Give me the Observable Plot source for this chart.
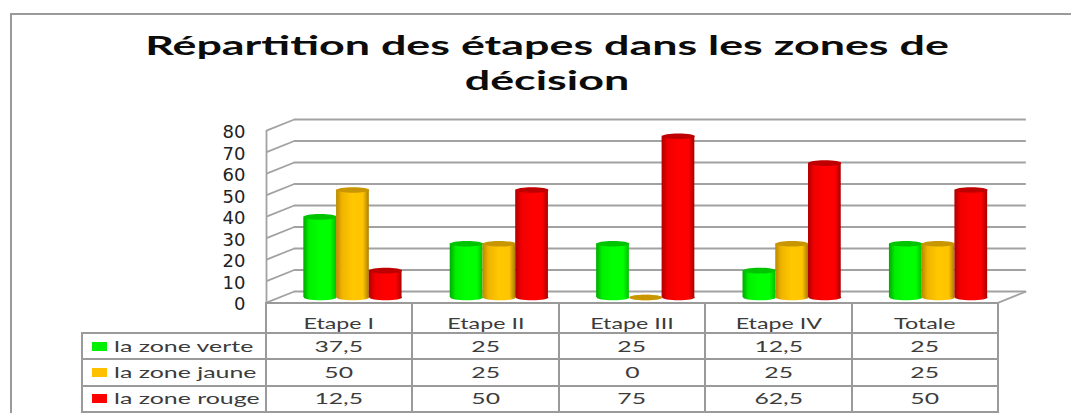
<!DOCTYPE html>
<html lang="fr">
<head>
<meta charset="utf-8">
<script src="https://cdn.jsdelivr.net/npm/d3@7"></script>
<script src="https://cdn.jsdelivr.net/npm/@observablehq/plot@0.6"></script>
<style>
  html, body { margin: 0; padding: 0; background: #fff; }
  #frame { position: relative; width: 1071px; height: 413px; overflow: hidden; box-sizing: border-box; }
  #frame::before { content: ""; position: absolute; left: 10px; top: 13px; right: 0; bottom: 0;
    border-top: 2px solid #9a9a9a; border-left: 2px solid #9a9a9a; }
  #title { position: absolute; left: 0; top: 27px; width: 1094px; text-align: center;
    font: 700 27px/35px Lato, sans-serif; color: #0c0c0c; }
  #title span { display: block; transform: scaleX(1.66); }
  #chart { position: absolute; left: 0; top: 110px; }
  #chart svg { display: block; overflow: visible; }
  #tbl { position: absolute; left: 81px; top: 302px; border-collapse: collapse; table-layout: fixed;
    width: 916px; font: 15px/1 Lato, sans-serif; color: #3c3c3c; }
  #tbl td, #tbl th { border: 2px solid #9a9a9a; padding: 0; text-align: center; font-weight: 400;
    height: 26.3px; box-sizing: border-box; vertical-align: middle; }
  #tbl thead th { height: 30px; vertical-align: bottom; padding-bottom: 1px; }
  #tbl thead th:first-child { border: 0; border-right: 2px solid #9a9a9a; border-bottom: 2px solid #9a9a9a; }
  #tbl .c { display: inline-block; transform: scaleX(1.55); }
  #tbl td .c { transform: scaleX(1.65); }
  #tbl .key { text-align: left; white-space: nowrap; }
  #tbl .sw { display: inline-block; width: 15px; height: 9px; margin: 0 7px 0 9px; vertical-align: 1px; }
  #tbl .n { display: inline-block; transform: scaleX(1.66); transform-origin: left center; }
</style>
</head>
<body>
<div id="frame">
  <div id="title"><span>Répartition des étapes dans les zones de</span><span>décision</span></div>
  <div id="chart"></div>
  <table id="tbl"></table>
</div>
<script>
const stages = ["Etape I", "Etape II", "Etape III", "Etape IV", "Totale"];
const zones = ["la zone verte", "la zone jaune", "la zone rouge"];
const verte = [37.5, 25, 25, 12.5, 25];
const jaune = [50, 25, 0, 25, 25];
const rouge = [12.5, 50, 75, 62.5, 50];
const yTicks = [0, 10, 20, 30, 40, 50, 60, 70, 80];

const seriesValues = [verte, jaune, rouge];
const swatch = ["#00f000", "#ffc000", "#ff0000"];
const capColor = ["#00c400", "#c89600", "#bf0000"];
const ramps = [
  ["#00a800", "#00f000", "#00ff00", "#00ff00", "#00c000"],
  ["#b88a00", "#f0b400", "#ffc800", "#ffc400", "#a87e00"],
  ["#b00000", "#f00000", "#ff0000", "#ff0000", "#a80000"]
];
const rampStops = ["0%", "18%", "50%", "82%", "100%"];

// Bar layout, in units of one table column
const barStart = 0.255, barWidth = 0.2236;
// Depth of the 3D box, in scale units
const depthX = 0.19, frontY = -2.35, backY = 2.8;

function rows(s) {
  return stages.map((stage, i) => ({
    stage,
    x1: i + barStart + s * barWidth,
    x2: i + barStart + (s + 1) * barWidth,
    xc: i + barStart + (s + 0.5) * barWidth,
    v: seriesValues[s][i]
  }));
}

const ellipse = {
  draw(ctx) {
    const rx = 16.4, ry = 2.8, k = 0.5523;
    ctx.moveTo(-rx, 0);
    ctx.bezierCurveTo(-rx, -ry * k, -rx * k, -ry, 0, -ry);
    ctx.bezierCurveTo(rx * k, -ry, rx, -ry * k, rx, 0);
    ctx.bezierCurveTo(rx, ry * k, rx * k, ry, 0, ry);
    ctx.bezierCurveTo(-rx * k, ry, -rx, ry * k, -rx, 0);
    ctx.closePath();
  }
};

function defs() {
  const d = d3.create("svg:defs");
  ramps.forEach((ramp, s) => {
    const g = d.append("linearGradient").attr("id", "cyl" + s);
    ramp.forEach((c, i) => g.append("stop").attr("offset", rampStops[i]).attr("stop-color", c));
  });
  return d.node();
}

const grid = { stroke: "#a2a2a2", strokeWidth: 1.8 };

const chart = Plot.plot({
  width: 1071,
  height: 193,
  marginLeft: 266,
  marginRight: 73,
  marginTop: 15,
  marginBottom: 6,
  x: { domain: [0, 5], axis: null },
  y: { domain: [0, 80], axis: null },
  style: { background: "transparent", overflow: "visible" },
  marks: [
    defs,
    // back wall
    Plot.ruleY(yTicks, { y: d => d + backY, x1: depthX, x2: 5 + depthX, ...grid }),
    // side wall
    Plot.link(yTicks, { x1: 0, x2: depthX, y1: d => d + frontY, y2: d => d + backY, ...grid }),
    Plot.ruleX([0], { y1: 0 + frontY, y2: 80 + frontY, ...grid }),
    // floor edge on the right
    Plot.link([0], { x1: 5, x2: 5 + depthX, y1: d => d + frontY, y2: d => d + backY, ...grid }),
    Plot.axisY(yTicks, {
      anchor: "left",
      label: null,
      tickSize: 0,
      tickPadding: 21,
      dy: 7,
      fontSize: 18,
      fontFamily: "DejaVu Sans",
      fill: "#222",
      style: { letterSpacing: "2px" }
    }),
    // cylinders
    ...[0, 1, 2].flatMap(s => {
      const data = rows(s);
      return [
        Plot.dot(data, { x: "xc", y: 0, r: 3, symbol: ellipse, fill: `url(#cyl${s})` }),
        Plot.rect(data, { x1: "x1", x2: "x2", y1: 0, y2: "v", fill: `url(#cyl${s})`, inset: 0 }),
        Plot.dot(data, { x: "xc", y: "v", r: 3, symbol: ellipse, fill: capColor[s] })
      ];
    })
  ]
});
document.getElementById("chart").append(chart);

const fmt = v => String(v).replace(".", ",");
const tbl = d3.select("#tbl");
const cg = tbl.append("colgroup");
cg.append("col").style("width", "184px");
stages.forEach(() => cg.append("col").style("width", "146.4px"));
const head = tbl.append("thead").append("tr");
head.append("th");
stages.forEach(s => head.append("th").append("span").attr("class", "c").text(s));
const body = tbl.append("tbody");
zones.forEach((z, s) => {
  const tr = body.append("tr");
  const k = tr.append("td").attr("class", "key");
  k.append("span").attr("class", "sw").style("background", swatch[s]);
  k.append("span").attr("class", "n").text(z);
  seriesValues[s].forEach(v => tr.append("td").append("span").attr("class", "c").text(fmt(v)));
});
</script>
</body>
</html>
